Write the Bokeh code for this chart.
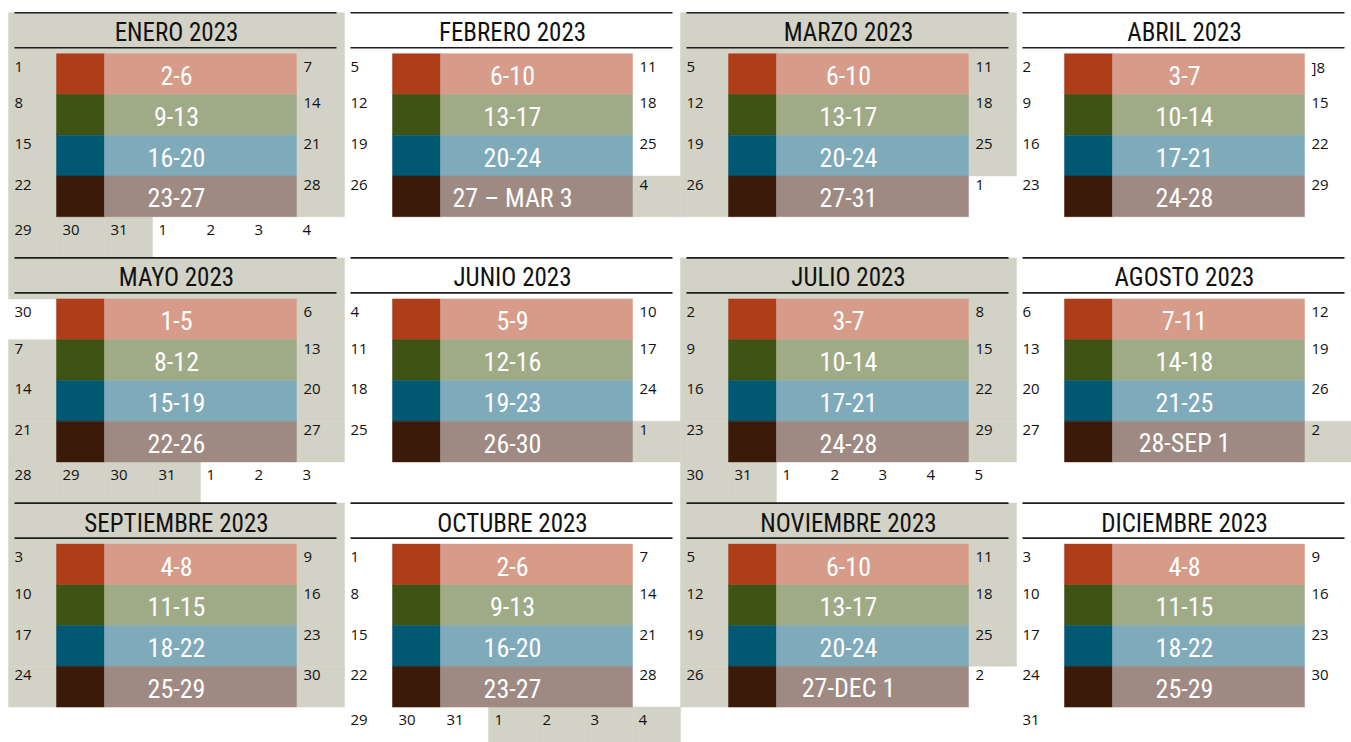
from bokeh.plotting import figure
from bokeh.models import Range1d, ColumnDataSource
from bokeh.core.properties import value
from bokeh.embed import file_html
from bokeh.resources import INLINE

# ---------------- data ----------------
months = ["ENERO 2023", "FEBRERO 2023", "MARZO 2023", "ABRIL 2023",
          "MAYO 2023", "JUNIO 2023", "JULIO 2023", "AGOSTO 2023",
          "SEPTIEMBRE 2023", "OCTUBRE 2023", "NOVIEMBRE 2023", "DICIEMBRE 2023"]

sundays = [["1", "8", "15", "22"], ["5", "12", "19", "26"], ["5", "12", "19", "26"], ["2", "9", "16", "23"],
           ["30", "7", "14", "21"], ["4", "11", "18", "25"], ["2", "9", "16", "23"], ["6", "13", "20", "27"],
           ["3", "10", "17", "24"], ["1", "8", "15", "22"], ["5", "12", "19", "26"], ["3", "10", "17", "24"]]

week_ranges = [["2-6", "9-13", "16-20", "23-27"],
               ["6-10", "13-17", "20-24", "27 – MAR 3"],
               ["6-10", "13-17", "20-24", "27-31"],
               ["3-7", "10-14", "17-21", "24-28"],
               ["1-5", "8-12", "15-19", "22-26"],
               ["5-9", "12-16", "19-23", "26-30"],
               ["3-7", "10-14", "17-21", "24-28"],
               ["7-11", "14-18", "21-25", "28-SEP 1"],
               ["4-8", "11-15", "18-22", "25-29"],
               ["2-6", "9-13", "16-20", "23-27"],
               ["6-10", "13-17", "20-24", "27-DEC 1"],
               ["4-8", "11-15", "18-22", "25-29"]]

saturdays = [["7", "14", "21", "28"], ["11", "18", "25", "4"], ["11", "18", "25", "1"], ["]8", "15", "22", "29"],
             ["6", "13", "20", "27"], ["10", "17", "24", "1"], ["8", "15", "22", "29"], ["12", "19", "26", "2"],
             ["9", "16", "23", "30"], ["7", "14", "21", "28"], ["11", "18", "25", "2"], ["9", "16", "23", "30"]]

extra_row = [["29", "30", "31", "1", "2", "3", "4"], [], [], [],
             ["28", "29", "30", "31", "1", "2", "3"], [], ["30", "31", "1", "2", "3", "4", "5"], [],
             [], ["29", "30", "31", "1", "2", "3", "4"], [], ["31"]]

swatch_colors = ["#ae3e1a", "#3f5314", "#005872", "#3c1a09"]
bar_colors = ["#d79b89", "#9faa87", "#7eaaba", "#9e8a82"]
SHADE = "#d3d2c6"

# ---------------- layout ----------------
CELL_W = 336.0
X0, Y0 = 8.0, 12.2
ROW_PITCH = 245.2
TITLE_H = 41.0
WEEK_H = 40.75
COL_W = 48.0


def num(s):
    return int("".join(ch for ch in s if ch.isdigit()))


def shaded(month_idx):
    return month_idx % 2 == 0


shade_q = dict(left=[], right=[], top=[], bottom=[])
sw_q = dict(left=[], right=[], top=[], bottom=[], color=[])
bar_q = dict(left=[], right=[], top=[], bottom=[], color=[])
lines = dict(x0=[], x1=[], y0=[], y1=[])
titles = dict(x=[], y=[], text=[])
labels = dict(x=[], y=[], text=[])
nums = dict(x=[], y=[], text=[])


def add_shade(l, r, t, b):
    shade_q["left"].append(l); shade_q["right"].append(r)
    shade_q["top"].append(t); shade_q["bottom"].append(b)


for m in range(12):
    c, r = m % 4, m // 4
    cx = X0 + CELL_W * c
    T = Y0 + ROW_PITCH * r
    if shaded(m):
        add_shade(cx, cx + CELL_W, T, T + TITLE_H)
    for yy in (T, T + 35):
        lines["x0"].append(cx + 6); lines["x1"].append(cx + 328)
        lines["y0"].append(yy); lines["y1"].append(yy)
    titles["x"].append(cx + 168); titles["y"].append(T + 20)
    titles["text"].append(months[m])
    for w in range(4):
        top = T + TITLE_H + WEEK_H * w
        bot = top + WEEK_H
        ny = top + (13 if w == 0 else 9)
        s = sundays[m][w]
        own = m - 1 if (w == 0 and num(s) > 7) else m
        if shaded(own):
            add_shade(cx, cx + COL_W, top, bot)
        nums["x"].append(cx + 6); nums["y"].append(ny); nums["text"].append(s)
        s = saturdays[m][w]
        own = m + 1 if (w == 3 and num(s) < 7) else m
        if shaded(own):
            add_shade(cx + 6 * COL_W, cx + 7 * COL_W, top, bot)
        nums["x"].append(cx + 295); nums["y"].append(ny); nums["text"].append(s)
        sw_q["left"].append(cx + COL_W); sw_q["right"].append(cx + 2 * COL_W)
        sw_q["top"].append(top); sw_q["bottom"].append(bot); sw_q["color"].append(swatch_colors[w])
        bar_q["left"].append(cx + 2 * COL_W); bar_q["right"].append(cx + 6 * COL_W)
        bar_q["top"].append(top); bar_q["bottom"].append(bot); bar_q["color"].append(bar_colors[w])
        labels["x"].append(cx + 168); labels["y"].append(top + 22); labels["text"].append(week_ranges[m][w])
    top = T + TITLE_H + WEEK_H * 4
    bot = T + ROW_PITCH
    prev, off = 0, 0
    for k, s in enumerate(extra_row[m]):
        n = num(s)
        if n < prev:
            off = 1
        prev = n
        if shaded(m + off):
            add_shade(cx + COL_W * k, cx + COL_W * (k + 1), top, bot)
        nums["x"].append(cx + 6 + COL_W * k); nums["y"].append(T + 217); nums["text"].append(s)

# ---------------- figure ----------------
p = figure(width=1351, height=742, x_range=Range1d(0, 1351), y_range=Range1d(742, 0),
           output_backend="svg", toolbar_location=None, min_border=0,
           x_axis_type=None, y_axis_type=None)
p.grid.visible = False
p.outline_line_color = None
p.background_fill_color = "white"

p.quad(source=ColumnDataSource(shade_q), left="left", right="right", top="top", bottom="bottom",
       fill_color=SHADE, line_color=SHADE, line_width=0.5)
p.quad(source=ColumnDataSource(sw_q), left="left", right="right", top="top", bottom="bottom",
       fill_color="color", line_color="color", line_width=0.5)
p.quad(source=ColumnDataSource(bar_q), left="left", right="right", top="top", bottom="bottom",
       fill_color="color", line_color="color", line_width=0.5)
p.segment(source=ColumnDataSource(lines), x0="x0", x1="x1", y0="y0", y1="y1",
          line_color="#1e1e1e", line_width=1.6)

COND = value("Roboto Condensed, DejaVu Sans Condensed, Liberation Sans Narrow, Arial Narrow, Roboto, sans-serif")
p.text(source=ColumnDataSource(titles), x="x", y="y", text="text", text_font=COND,
       text_font_size=value("25px"), text_color="#111111", text_align="center", text_baseline="middle")
p.text(source=ColumnDataSource(labels), x="x", y="y", text="text", text_font=COND,
       text_font_size=value("26px"), text_color="white", text_align="center", text_baseline="middle")
p.text(source=ColumnDataSource(nums), x="x", y="y", text="text", text_font=value("Open Sans"),
       text_font_size=value("15px"), text_color="#111111", text_align="left", text_baseline="middle")

open("out.html", "w").write(file_html(p, INLINE))
